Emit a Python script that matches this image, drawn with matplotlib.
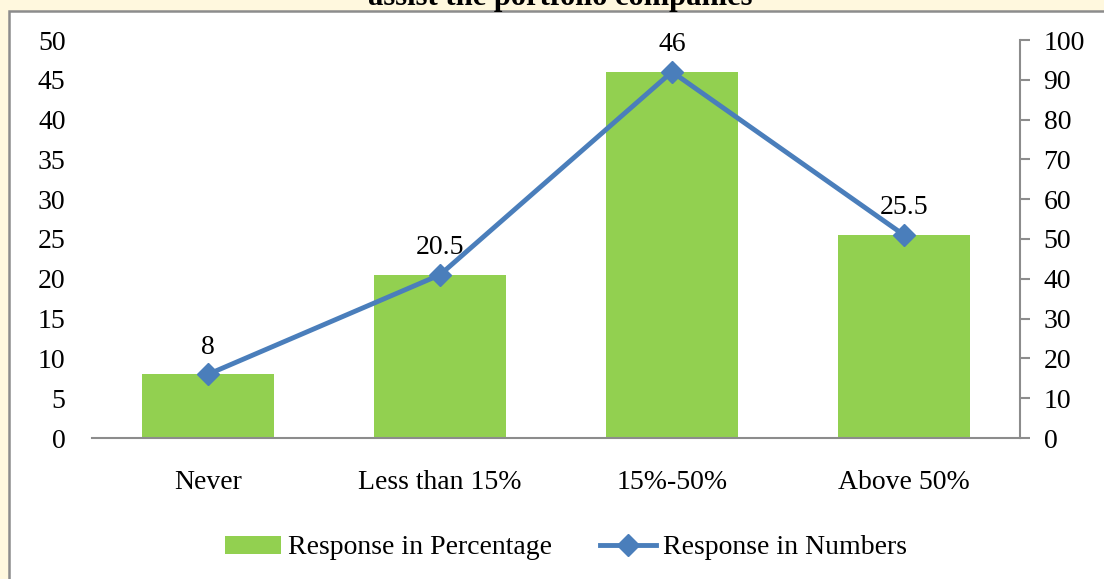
import matplotlib.pyplot as plt
from matplotlib.patches import Rectangle
from matplotlib.lines import Line2D

categories = ["Never", "Less than 15%", "15%-50%", "Above 50%"]
percentage = [8, 20.5, 46, 25.5]
numbers = [16, 41, 92, 51]
left_ticks = list(range(0, 51, 5))
right_ticks = list(range(0, 101, 10))

plt.rcParams['font.family'] = ['Liberation Serif', 'DejaVu Serif']

W, H = 1104, 579
FS = 20
fig = plt.figure(figsize=(W/100, H/100), dpi=100)
fig.patch.set_facecolor('white')

# background cream strip and chart border
fig.patches.append(Rectangle((0, 0), 1, 1, transform=fig.transFigure, facecolor='#FFF8DE', edgecolor='none', zorder=-3))
fig.patches.append(Rectangle((9/W, -0.1), 1.2, (579-11)/H + 0.1, transform=fig.transFigure,
                             facecolor='white', edgecolor='#8C8C8C', linewidth=1.8, zorder=-2))
fig.text(560/W, 1 - 5/H, "assist the portfolio companies", ha='center', va='baseline',
         fontsize=22, fontweight='bold')

ax = fig.add_axes([92/W, 141/H, 928/W, 398/H])
ax.set_facecolor('none')
x = list(range(len(categories)))
ax.bar(x, percentage, width=0.57, color='#92D050', zorder=2)
ax.set_xlim(-0.5, 3.5)
ax.set_ylim(0, 50)
ax.set_yticks(left_ticks)
ax.set_xticks(x)
ax.set_xticklabels(categories)
for s in ['top', 'right', 'left']:
    ax.spines[s].set_visible(False)
ax.spines['bottom'].set_color('#8C8C8C')
ax.spines['bottom'].set_linewidth(1.5)
ax.tick_params(axis='y', length=0, pad=19, labelsize=FS)
ax.tick_params(axis='x', length=0, pad=23, labelsize=FS)

ax2 = ax.twinx()
ax2.plot(x, numbers, color='#4A7EBB', linewidth=3.5, marker='D', markersize=11.5,
         markerfacecolor='#4A7EBB', markeredgecolor='#4A7EBB', zorder=3)
ax2.set_ylim(0, 100)
ax2.set_yticks(right_ticks)
for s in ['top', 'left', 'bottom']:
    ax2.spines[s].set_visible(False)
ax2.spines['right'].set_color('#8C8C8C')
ax2.spines['right'].set_linewidth(1.5)
ax2.tick_params(axis='y', length=7, width=1.5, color='#8C8C8C', direction='out', pad=10, labelsize=FS)

for xi, p, n in zip(x, percentage, numbers):
    ax2.annotate(f"{p:g}", (xi, n), xytext=(0, 19.5), textcoords='offset points',
                 ha='center', va='center', fontsize=FS)

handles = [Rectangle((0, 0), 1, 1, facecolor='#92D050'),
           Line2D([0], [0], color='#4A7EBB', linewidth=3.5, marker='D', markersize=11.5)]
fig.legend(handles, ["Response in Percentage", "Response in Numbers"], loc='center',
           bbox_to_anchor=(566/W, 1 - 548/H), ncol=2, frameon=False, fontsize=FS,
           handlelength=2.0, handleheight=0.6, handletextpad=0.25, columnspacing=1.75)

fig.savefig('out.png', dpi=100)
